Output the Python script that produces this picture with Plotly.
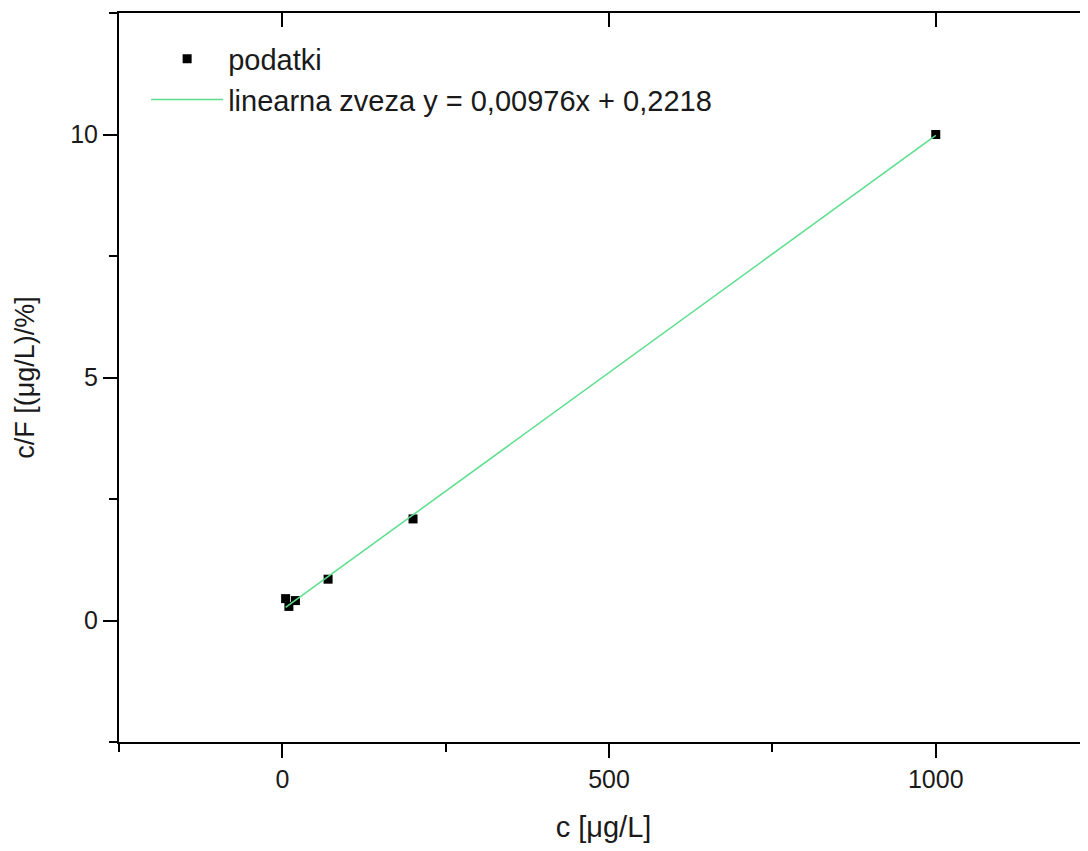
import plotly.graph_objects as go

# data
c_vals = [5, 10, 20, 70, 200, 1000]
cF_vals = [0.45, 0.29, 0.41, 0.85, 2.09, 10.0]

slope = 0.00976
intercept = 0.2218
fit_x = [min(c_vals), max(c_vals)]
fit_y = [slope * v + intercept for v in fit_x]

x_major = [0, 500, 1000]
x_minor = [-250, 250, 750, 1250]
y_major = [0, 5, 10]
y_minor = [-2.5, 2.5, 7.5, 12.5]
x_range = [-250, 1233]
y_range = [-2.5, 12.5]

FONT = "Liberation Sans, Arial, sans-serif"
TXT = "#1a1a1a"

fig = go.Figure()
fig.add_trace(go.Scatter(
    x=c_vals, y=cF_vals, mode="markers", name="podatki",
    marker=dict(symbol="square", size=9, color="black"),
))
fig.add_trace(go.Scatter(
    x=fit_x, y=fit_y, mode="lines",
    name="linearna zveza y = 0,00976x + 0,2218",
    line=dict(color="rgb(90,222,140)", width=1.5),
))
# dummy trace to carry the mirrored top/right axes
fig.add_trace(go.Scatter(
    x=fit_x, y=fit_y, mode="lines", xaxis="x2", yaxis="y2",
    line=dict(color="rgba(0,0,0,0)"), showlegend=False, hoverinfo="skip",
))

fig.update_layout(
    width=1080, height=835,
    margin=dict(l=111, r=0, t=5, b=101),
    paper_bgcolor="white", plot_bgcolor="white",
    font=dict(family=FONT, color=TXT, size=25),
    showlegend=True,
    legend=dict(
        x=0.028, y=0.972, xanchor="left", yanchor="top",
        bgcolor="rgba(0,0,0,0)", font=dict(size=29, family=FONT, color=TXT),
        itemwidth=72, tracegroupgap=0,
    ),
    xaxis=dict(
        range=x_range, showgrid=False, zeroline=False,
        showline=True, linecolor="black", linewidth=2,
        ticks="outside", ticklen=14, tickwidth=2, tickcolor="black",
        tickvals=x_major, ticktext=[str(v) for v in x_major],
        tickfont=dict(size=25, family=FONT, color=TXT),
        minor=dict(tickvals=x_minor, ticks="outside", ticklen=8, tickwidth=2, tickcolor="black"),
        title=dict(text="c [μg/L]", font=dict(size=29, family=FONT, color=TXT), standoff=26),
    ),
    xaxis2=dict(
        range=x_range, overlaying="x", side="top", showgrid=False, zeroline=False,
        showline=True, linecolor="black", linewidth=2,
        ticks="inside", ticklen=14, tickwidth=2, tickcolor="black",
        tickvals=x_major, showticklabels=False,
    ),
    yaxis=dict(
        range=y_range, showgrid=False, zeroline=False,
        showline=True, linecolor="black", linewidth=2,
        ticks="outside", ticklen=14, tickwidth=2, tickcolor="black",
        tickvals=y_major, ticktext=[str(v) for v in y_major],
        tickfont=dict(size=25, family=FONT, color=TXT),
        minor=dict(tickvals=y_minor, ticks="outside", ticklen=8, tickwidth=2, tickcolor="black"),
        title=dict(text="c/F [(μg/L)/%]", font=dict(size=27, family=FONT, color=TXT), standoff=28),
    ),
    yaxis2=dict(
        range=y_range, overlaying="y", side="right", showgrid=False, zeroline=False,
        showline=False, ticks="inside", ticklen=3, tickwidth=2, tickcolor="black",
        tickvals=y_major, showticklabels=False,
    ),
)

fig.write_html("out.html")
